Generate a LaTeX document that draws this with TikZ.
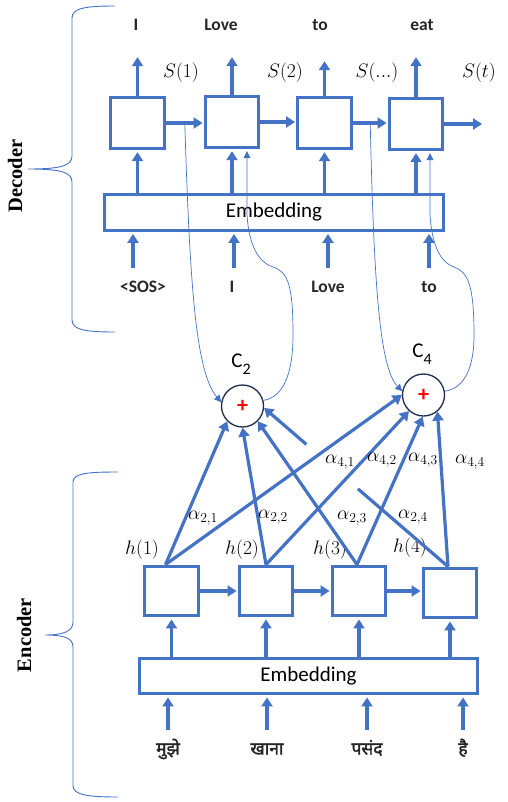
\RequirePackage{fix-cm}
\documentclass[tikz,border=0pt]{standalone}
\usepackage{amsmath}
\usepackage{fontspec}
\newfontfamily\calib{Carlito}
\newfontfamily\timesf{Liberation Serif}
\newfontfamily\hindi[Script=Devanagari,FakeBold=2]{Noto Sans}
\usetikzlibrary{arrows.meta,calc}
\definecolor{lblue}{HTML}{4472C4}
\definecolor{cnavy}{HTML}{1F2D4D}

\begin{document}
\begin{tikzpicture}[x=1pt,y=-1pt,
  cell/.style={draw=lblue,line width=3.4pt,minimum width=53.5pt,minimum height=49.5pt,inner sep=0pt},
  embed/.style={draw=lblue,line width=3.4pt,minimum width=338.5pt,minimum height=35.5pt,inner sep=0pt,font=\calib\fontsize{21}{21}\selectfont},
  ctx/.style={circle,draw=cnavy,line width=1.3pt,fill=white,minimum size=42pt,inner sep=0pt,text=red,font=\calib\bfseries\fontsize{22}{22}\selectfont},
  clab/.style={inner sep=1pt,font=\calib\fontsize{21}{21}\selectfont},
  word/.style={text=black!85,text height=11pt,text depth=3pt,inner sep=2pt,font=\calib\bfseries\fontsize{17.5}{17.5}\selectfont},
  hword/.style={text=black!85,text height=13pt,text depth=4pt,inner sep=2pt,font=\hindi\fontsize{17.5}{17.5}\selectfont},
  lab/.style={inner sep=1pt,font=\fontsize{19.5}{19.5}\selectfont},
  side/.style={rotate=90,font=\timesf\bfseries\fontsize{20.5}{20.5}\selectfont},
  thick arrow/.style={draw=lblue,line width=3.2pt,-{Triangle[length=9pt,width=11pt]}},
  thin arrow/.style={draw=lblue,line width=0.7pt,-{Triangle[length=7pt,width=7pt]}},
  brace/.style={draw=lblue,line width=0.9pt}]
\useasboundingbox (0,0) rectangle (507,802);

\node[word] (o1) at (136,27) {I};
\node[word] (o2) at (221,27) {Love};
\node[word] (o3) at (320,27) {to};
\node[word] (o4) at (422,27) {eat};
\node[lab] (s1) at (181,73) {$S(1)$};
\node[lab] (s2) at (285,73) {$S(2)$};
\node[lab] (s3) at (377,73) {$S(...)$};
\node[lab] (s4) at (479,73) {$S(t)$};
\node[cell,minimum height=51pt] (d1) at (137.5,123) {};
\node[cell,minimum height=51pt] (d2) at (232,122) {};
\node[cell,minimum height=51pt] (d3) at (324.5,123) {};
\node[cell,minimum height=51pt] (d4) at (416,124) {};
\coordinate (dout) at (482,124);
\node[embed] (demb) at (274,212.5) {Embedding};
\node[word] (i1) at (143,288) {<SOS>};
\node[word] (i2) at (232,288) {I};
\node[word] (i3) at (328,288) {Love};
\node[word] (i4) at (429,288) {to};

\draw[thick arrow,shorten >=21pt] (d1.north) -- (d1.north |- o1.south);
\draw[thick arrow,shorten >=21pt] (d2.north) -- (d2.north |- o2.south);
\draw[thick arrow,shorten >=25pt] (d3.north) -- (d3.north |- o3.south);
\draw[thick arrow,shorten >=21pt] (d4.north) -- (d4.north |- o4.south);
\draw[thick arrow,shorten >=1pt] (d1.east) -- (d1.east -| d2.west);
\draw[thick arrow,shorten >=1pt] (d2.east) -- (d2.east -| d3.west);
\draw[thick arrow,shorten >=1pt] (d3.east) -- (d3.east -| d4.west);
\draw[thick arrow] (d4.east) -- (dout);
\draw[thick arrow,shorten >=2pt] (d1.south |- demb.north) -- (d1.south);
\draw[thick arrow,shorten >=2pt] (d2.south |- demb.north) -- (d2.south);
\draw[thick arrow,shorten >=2pt] (d3.south |- demb.north) -- (d3.south);
\draw[thick arrow,shorten >=2pt] (d4.south |- demb.north) -- (d4.south);
\draw[thick arrow,shorten <=11pt,shorten >=2pt] ([xshift=-10pt]i1.north) -- ([xshift=-10pt]i1.north |- demb.south);
\draw[thick arrow,shorten <=11pt,shorten >=2pt] ([xshift=2pt]i2.north) -- ([xshift=2pt]i2.north |- demb.south);
\draw[thick arrow,shorten <=11pt,shorten >=2pt] (i3.north) -- (i3.north |- demb.south);
\draw[thick arrow,shorten <=11pt,shorten >=2pt] (i4.north) -- (i4.north |- demb.south);

\node[ctx] (c2) at (242.5,406) {+};
\node[ctx] (c4) at (423.5,395) {+};
\node[clab] (l2) at (241,364) {C\raisebox{-7pt}{\fontsize{16}{16}\selectfont 2}};
\node[clab] (l4) at (422,354) {C\raisebox{-7pt}{\fontsize{16}{16}\selectfont 4}};

\coordinate (dm1) at ($(d1.east)!0.5!(d2.west)$);
\coordinate (dm3) at ($(d3.east)!0.5!(d4.west)$);
\draw[thin arrow] (dm1) .. controls (190,290) and (196,372) .. (c2.170);
\draw[thin arrow,shorten >=2pt] (c2.15) .. controls (285,397) and (293,370) .. (293,335) .. controls (293,285) and (288,272) .. (273,267) .. controls (258,262) and (249,245) .. (247,215) -- ([xshift=15pt]d2.south);
\draw[thin arrow] (dm3) .. controls (374,290) and (380,368) .. (c4.170);
\draw[thin arrow,shorten >=2pt] (c4.10) .. controls (466,388) and (474,365) .. (474,335) .. controls (474,285) and (468,272) .. (454,267) .. controls (440,262) and (432,245) .. (430,215) -- ([xshift=14pt]d4.south);

\node[cell] (e1) at (171.5,591) {};
\node[cell] (e2) at (266,591) {};
\node[cell] (e3) at (359,591) {};
\node[cell] (e4) at (450,593) {};
\node[lab] (h1) at (142,550) {$h(1)$};
\node[lab] (h2) at (242,550) {$h(2)$};
\node[lab] (h3) at (330,550) {$h(3)$};
\node[lab] (h4) at (410,548) {$h(4)$};
\node[embed] (eemb) at (308.5,676) {Embedding};
\node[hword] (w1) at (168,750) {मुझे};
\node[hword] (w2) at (267,750) {खाना};
\node[hword] (w3) at (367,750) {पसंद};
\node[hword] (w4) at (463,750) {है};

\draw[thick arrow,shorten >=1pt] (e1.east) -- (e2.west);
\draw[thick arrow,shorten >=1pt] (e2.east) -- (e3.west);
\draw[thick arrow,shorten >=1pt] (e3.east) -- (e3.east -| e4.west);
\draw[thick arrow,shorten >=2pt] (e1.south |- eemb.north) -- (e1.south);
\draw[thick arrow,shorten >=2pt] (e2.south |- eemb.north) -- (e2.south);
\draw[thick arrow,shorten >=2pt] (e3.south |- eemb.north) -- (e3.south);
\draw[thick arrow,shorten >=2pt] (e4.south |- eemb.north) -- (e4.south);
\draw[thick arrow,shorten <=9pt,shorten >=2pt] (w1.north) -- (w1.north |- eemb.south);
\draw[thick arrow,shorten <=9pt,shorten >=2pt] (w2.north) -- (w2.north |- eemb.south);
\draw[thick arrow,shorten <=9pt,shorten >=2pt] (w3.north) -- (w3.north |- eemb.south);
\draw[thick arrow,shorten <=9pt,shorten >=2pt] (w4.north) -- (w4.north |- eemb.south);

\draw[thick arrow] ([xshift=-6pt]e1.north) -- (c2.225);
\draw[thick arrow] (e2.north) -- (c2.270);
\draw[thick arrow] ([xshift=-2pt]e3.north) -- (c2.315);
\draw[thick arrow,-] ([xshift=-2pt]e4.north) -- ($([xshift=-2pt]e4.north)!0.49!(c2.355)$);
\draw[thick arrow] ($([xshift=-2pt]e4.north)!0.77!(c2.355)$) -- (c2.355);
\draw[thick arrow] ([xshift=-6pt]e1.north) -- (c4.west);
\draw[thick arrow] (e2.north) -- (c4.228);
\draw[thick arrow] ([xshift=-2pt]e3.north) -- (c4.268);
\draw[thick arrow] ([xshift=-2pt]e4.north) -- (c4.310);
\node[lab] (a21) at (203,518) {$\alpha_{2,1}$};
\node[lab] (a22) at (273,517) {$\alpha_{2,2}$};
\node[lab] (a23) at (352,518) {$\alpha_{2,3}$};
\node[lab] (a24) at (413,517) {$\alpha_{2,4}$};
\node[lab] (a41) at (340,462) {$\alpha_{4,1}$};
\node[lab] (a42) at (382,460) {$\alpha_{4,2}$};
\node[lab] (a43) at (423,460) {$\alpha_{4,3}$};
\node[lab] (a44) at (470,462) {$\alpha_{4,4}$};

\draw[brace] (115,6) .. controls (86,6) and (72,8) .. (72,18) -- (72,156) .. controls (72,166) and (60,169) .. (28,169) .. controls (60,169) and (72,172) .. (72,182) -- (72,320) .. controls (72,330) and (86,332) .. (115,332);
\draw[brace] (118,472) .. controls (89,472) and (73,473) .. (73,482) -- (73,622) .. controls (73,631) and (64,635) .. (45,635) .. controls (64,635) and (73,638) .. (73,647) -- (73,786) .. controls (73,795) and (89,797) .. (118,797);
\node[side] (dec) at (15,176) {Decoder};
\node[side] (enc) at (24,635) {Encoder};
\end{tikzpicture}
\end{document}
